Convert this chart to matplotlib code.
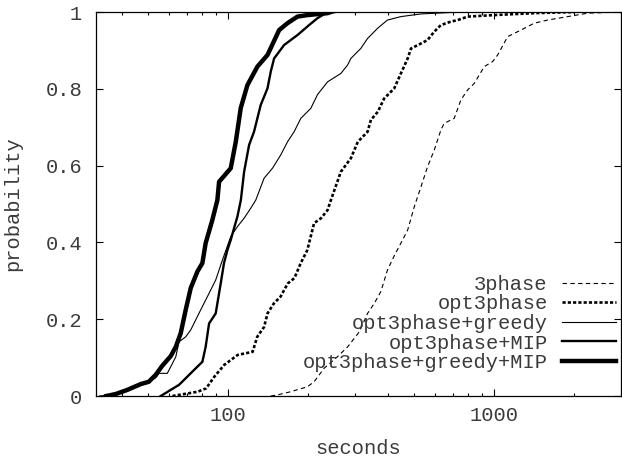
import matplotlib
matplotlib.use("Agg")
import matplotlib.pyplot as plt
from matplotlib.ticker import FixedLocator, LogLocator, NullFormatter

x_3phase = [145, 154, 172, 199, 211, 230, 258, 282, 312, 335, 355, 376, 398, 422, 447, 474,
            502, 532, 563, 597, 632, 650, 709, 751, 796, 843, 920, 989, 1032, 1126, 1263,
            1418, 1592, 1892, 2250, 3000]
y_3phase = [0, 0.003, 0.011, 0.024, 0.037, 0.072, 0.102, 0.128, 0.167, 0.215, 0.241, 0.272,
            0.328, 0.365, 0.398, 0.432, 0.493, 0.545, 0.597, 0.641, 0.693, 0.710, 0.723, 0.771,
            0.797, 0.814, 0.858, 0.871, 0.888, 0.936, 0.953, 0.971, 0.979, 0.988, 0.997, 1.0]

x_opt = [62, 77, 83, 89, 97, 109, 124, 129, 137, 141, 149, 158, 168, 178, 188, 199, 211, 224,
         237, 244, 266, 290, 308, 335, 345, 366, 387, 422, 447, 474, 488, 532, 563, 597, 632,
         689, 731, 796, 1003, 1418, 2000]
y_opt = [0, 0.011, 0.020, 0.050, 0.081, 0.107, 0.115, 0.154, 0.180, 0.215, 0.241, 0.259, 0.293,
         0.307, 0.346, 0.380, 0.450, 0.463, 0.484, 0.510, 0.584, 0.619, 0.662, 0.688, 0.719,
         0.740, 0.775, 0.801, 0.840, 0.879, 0.905, 0.918, 0.927, 0.949, 0.966, 0.975, 0.979,
         0.988, 0.992, 0.997, 1.0]

x_greedy = [33, 38.6, 47, 53.6, 55.2, 59.3, 63.8, 65.6, 69.5, 72.6, 79.1, 83.9, 90.1, 95.5,
            102.6, 108.7, 115.2, 122, 127.4, 136.9, 147.2, 158.2, 167.7, 177.5, 188.1, 205.1,
            217.4, 237, 266, 282, 290, 316, 335, 366, 398, 447, 532, 751]
y_greedy = [0, 0.005, 0.029, 0.047, 0.059, 0.059, 0.102, 0.141, 0.154, 0.172, 0.224, 0.259,
            0.302, 0.354, 0.415, 0.441, 0.463, 0.489, 0.510, 0.567, 0.593, 0.628, 0.662, 0.688,
            0.723, 0.749, 0.785, 0.818, 0.840, 0.862, 0.879, 0.905, 0.931, 0.958, 0.979, 0.988,
            0.995, 1.0]

x_mip = [56, 65.6, 75.8, 80.3, 82.6, 85.1, 90.1, 94.1, 96.8, 99.7, 102.6, 105.6, 108.7, 112,
         115.2, 120.3, 125.5, 133, 141, 145.1, 149.3, 162.8, 182.8, 202.1, 217.4, 233.5, 252.6]
y_mip = [0, 0.029, 0.072, 0.089, 0.128, 0.189, 0.215, 0.293, 0.346, 0.380, 0.406, 0.437, 0.467,
         0.510, 0.584, 0.654, 0.688, 0.758, 0.801, 0.845, 0.879, 0.914, 0.940, 0.966, 0.984,
         0.997, 1.0]

x_greedy_mip = [35, 37.9, 42, 47.1, 50.5, 53.6, 56.8, 61.1, 63.8, 66.6, 69.5, 72.6, 76.9, 80.3,
                82.6, 87.5, 91.4, 92.8, 102.6, 107.2, 111.9, 118.6, 129.3, 141, 156, 167.7,
                182.8, 199.4, 237, 243.9]
y_greedy_mip = [0, 0.005, 0.016, 0.031, 0.037, 0.055, 0.079, 0.104, 0.128, 0.164, 0.224, 0.281,
                0.324, 0.346, 0.398, 0.458, 0.510, 0.558, 0.593, 0.662, 0.750, 0.810, 0.858,
                0.888, 0.953, 0.971, 0.988, 0.992, 0.997, 1.0]

labels = ["3phase", "opt3phase", "opt3phase+greedy", "opt3phase+MIP", "opt3phase+greedy+MIP"]
y_ticks = [0, 0.2, 0.4, 0.6, 0.8, 1]
y_tick_labels = ["0", "0.2", "0.4", "0.6", "0.8", "1"]
x_ticks = [100, 1000]

plt.rcParams["font.family"] = ["Liberation Mono", "DejaVu Sans Mono"]
text_color = "#3a3a3a"
fs = 14.7

fig = plt.figure(figsize=(6.22, 4.58), dpi=100)
ax = fig.add_axes([96 / 622, 62 / 458, 525 / 622, 384 / 458])

ax.plot(x_3phase, y_3phase, color="black", lw=0.8, ls=(0, (4, 3)), label=labels[0])
ax.plot(x_opt, y_opt, color="black", lw=1.9, ls=(0, (1.2, 0.8)), label=labels[1])
ax.plot(x_greedy, y_greedy, color="black", lw=0.8, label=labels[2])
ax.plot(x_mip, y_mip, color="black", lw=1.7, label=labels[3])
ax.plot(x_greedy_mip, y_greedy_mip, color="black", lw=3.2, label=labels[4])

ax.set_xscale("log")
ax.set_xlim(32, 3000)
ax.set_ylim(0, 1)
ax.xaxis.set_major_locator(FixedLocator(x_ticks))
ax.xaxis.set_minor_locator(LogLocator(base=10, subs=range(2, 10)))
ax.xaxis.set_minor_formatter(NullFormatter())
ax.set_xticklabels([str(t) for t in x_ticks])
ax.set_yticks(y_ticks)
ax.set_yticklabels(y_tick_labels)

ax.tick_params(which="both", direction="in", top=True, right=True, colors="black",
               labelcolor=text_color, labelsize=fs, width=0.8)
ax.tick_params(which="major", length=4.8)
ax.tick_params(which="minor", length=2.5)
ax.tick_params(axis="x", pad=7)
ax.tick_params(axis="y", pad=10)
for s in ax.spines.values():
    s.set_linewidth(0.9)

ax.set_xlabel("seconds", fontsize=fs, color=text_color)
ax.set_ylabel("probability", fontsize=fs, color=text_color)
ax.xaxis.set_label_coords(0.5, -0.113)
ax.yaxis.set_label_coords(-0.141, 0.5)

leg = ax.legend(loc="lower right", bbox_to_anchor=(0.9905, 0.062), frameon=False, markerfirst=False,
                fontsize=fs, handlelength=2.65, handletextpad=0.7, labelspacing=0.03,
                borderpad=0, borderaxespad=0)
for t in leg.get_texts():
    t.set_color(text_color)

fig.savefig("out.png", dpi=100)
